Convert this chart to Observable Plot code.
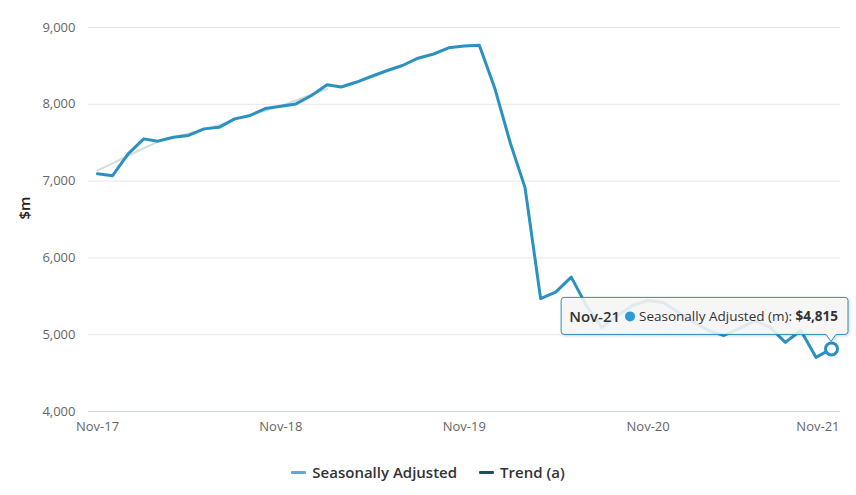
<!DOCTYPE html>
<html>
<head>
<meta charset="utf-8">
<script src="https://cdn.jsdelivr.net/npm/d3@7"></script>
<script src="https://cdn.jsdelivr.net/npm/@observablehq/plot@0.6"></script>
<style>
  body { margin: 0; background: #fff; }
  #wrap { position: relative; width: 856px; height: 495px; font-family: "Open Sans", sans-serif; }
  #legend { position: absolute; left: 0; top: 458px; width: 856px; height: 28px; display: flex; justify-content: center; align-items: center; gap: 22px; font-size: 15px; font-weight: 600; color: #333; }
  .item { display: flex; align-items: center; }
  .sw { display: inline-block; width: 15px; height: 3px; margin-right: 6px; border-radius: 1px; }
</style>
</head>
<body>
<div id="wrap"><div id="legend"></div></div>
<script>
const FONT = '"Open Sans", sans-serif';

const months = [
  "2017-11","2017-12","2018-01","2018-02","2018-03","2018-04","2018-05","2018-06","2018-07","2018-08","2018-09","2018-10",
  "2018-11","2018-12","2019-01","2019-02","2019-03","2019-04","2019-05","2019-06","2019-07","2019-08","2019-09","2019-10",
  "2019-11","2019-12","2020-01","2020-02","2020-03","2020-04","2020-05","2020-06","2020-07","2020-08","2020-09","2020-10",
  "2020-11","2020-12","2021-01","2021-02","2021-03","2021-04","2021-05","2021-06","2021-07","2021-08","2021-09","2021-10",
  "2021-11"
];
const seasonallyAdjusted = [
  7095, 7070, 7355, 7550, 7520, 7570, 7595, 7680, 7700, 7810, 7855, 7945,
  7975, 8005, 8115, 8255, 8225, 8290, 8365, 8440, 8505, 8600, 8655, 8735,
  8760, 8770, 8205, 7490, 6915, 5470, 5555, 5750, 5380, 5095, 5250, 5380,
  5445, 5420, 5290, 5160, 5055, 4990, 5080, 5180, 5100, 4900, 5055, 4705,
  4815
];
const trend = [
  7140, 7230, 7330, 7430, 7510, 7570, 7620, 7670, 7730, 7800, 7860, 7920,
  7980, 8050, 8130, 8200
];
const tickMonths = ["2017-11","2018-11","2019-11","2020-11","2021-11"];
const tickLabels = ["Nov-17","Nov-18","Nov-19","Nov-20","Nov-21"];
const yTicks = [4000, 5000, 6000, 7000, 8000, 9000];
const seriesNames = ["Seasonally Adjusted", "Trend (a)"];
const seriesColors = ["#2a91c0", "#1d4f60"];
const legendColors = ["#56acd6", "#1d4f60"];
const tooltipLabel = "Nov-21";
const tooltipSeries = "Seasonally Adjusted (m): ";
const yAxisTitle = "$m";

(function () {
  const parse = d3.utcParse("%Y-%m");
  const saData = months.map((m, i) => ({date: parse(m), value: seasonallyAdjusted[i]}));
  const trendData = trend.map((v, i) => ({date: parse(months[i]), value: v}));
  const tickData = tickMonths.map((m, i) => ({date: parse(m), label: tickLabels[i]}));
  const lastPt = saData[saData.length - 1];

  const chart = Plot.plot({
    width: 856, height: 450,
    marginTop: 27, marginBottom: 39, marginLeft: 88, marginRight: 16,
    style: {fontFamily: FONT, fontSize: "13px", background: "#fff", overflow: "visible"},
    x: {type: "utc", domain: [saData[0].date, lastPt.date], insetLeft: 9, insetRight: 9, axis: null},
    y: {domain: [4000, 9000], axis: null},
    marks: [
      Plot.gridY(yTicks, {stroke: "#e6e6e6", strokeOpacity: 1}),
      Plot.ruleY([4000], {stroke: "#ccd6eb", strokeWidth: 1}),
      Plot.axisY(yTicks, {tickSize: 0, tickPadding: 13, tickFormat: d3.format(","), fill: "#666", fontSize: 13, label: null}),
      Plot.text([yAxisTitle], {text: d => d, frameAnchor: "left", dx: -63, rotate: -90, fill: "#222", fontSize: 15, fontWeight: 600}),
      Plot.text(tickData.slice(0, 4), {x: "date", text: "label", frameAnchor: "bottom", lineAnchor: "top", dy: 10, fill: "#666", fontSize: 13}),
      Plot.text(tickData.slice(4), {x: "date", text: "label", frameAnchor: "bottom", lineAnchor: "top", textAnchor: "end", dy: 10, dx: 8, fill: "#666", fontSize: 13}),
      Plot.line(trendData, {x: "date", y: "value", stroke: seriesColors[1], strokeOpacity: 0.2, strokeWidth: 2}),
      Plot.line(saData, {x: "date", y: "value", stroke: seriesColors[0], strokeWidth: 3}),
      Plot.dot([lastPt], {x: "date", y: "value", r: 6, stroke: seriesColors[0], strokeWidth: 3, fill: "#fff"})
    ]
  });
  const wrap = document.getElementById("wrap");
  wrap.insertBefore(chart, wrap.firstChild);

  // Tooltip anchored to the last point through the plot's scales
  const px = chart.scale("x").apply(lastPt.date);
  const py = chart.scale("y").apply(lastPt.value);
  const svg = d3.select(chart);
  const g = svg.append("g").attr("text-anchor", "start");
  const bRight = px + 17, bBottom = py - 14, bTop = bBottom - 37, cy = (bTop + bBottom) / 2;
  const path = g.append("path").attr("fill", "rgba(250,250,250,0.87)").attr("stroke", seriesColors[0]).attr("stroke-width", 1)
    .style("filter", "drop-shadow(1px 1px 1.5px rgba(0,0,0,0.18))");
  const tg = g.append("g");
  const mk = (x, txt, size, weight) => tg.append("text").attr("x", x).attr("y", cy)
    .attr("text-anchor", "start").attr("dominant-baseline", "central").attr("font-family", FONT)
    .attr("font-size", size).attr("font-weight", weight).attr("fill", "#333")
    .style("white-space", "pre").text(txt);
  const t1 = mk(0, tooltipLabel, 15, 600);
  let cx = t1.node().getComputedTextLength() + 5;
  tg.append("circle").attr("cx", cx + 5).attr("cy", cy + 0.5).attr("r", 5).attr("fill", "#2b9bd6");
  cx += 14;
  const t2 = mk(cx, tooltipSeries, 13.5, 400);
  cx += t2.node().getComputedTextLength();
  const t3 = mk(cx, d3.format("$,")(lastPt.value), 13.5, 700);
  cx += t3.node().getComputedTextLength();
  const bLeft = bRight - 10 - cx - 8;
  tg.attr("transform", `translate(${bRight - 10 - cx},0)`);
  path.attr("d", `M${bLeft+3},${bTop} H${bRight-3} Q${bRight},${bTop} ${bRight},${bTop+3} V${bBottom-3} Q${bRight},${bBottom} ${bRight-3},${bBottom} H${px+5} L${px},${bBottom+7} L${px-5},${bBottom} H${bLeft+3} Q${bLeft},${bBottom} ${bLeft},${bBottom-3} V${bTop+3} Q${bLeft},${bTop} ${bLeft+3},${bTop} Z`);

  // Legend
  const legend = d3.select("#legend");
  seriesNames.forEach((name, i) => {
    const it = legend.append("div").attr("class", "item");
    it.append("span").attr("class", "sw").style("background", legendColors[i]);
    it.append("span").text(name);
  });
})();
</script>
</body>
</html>
